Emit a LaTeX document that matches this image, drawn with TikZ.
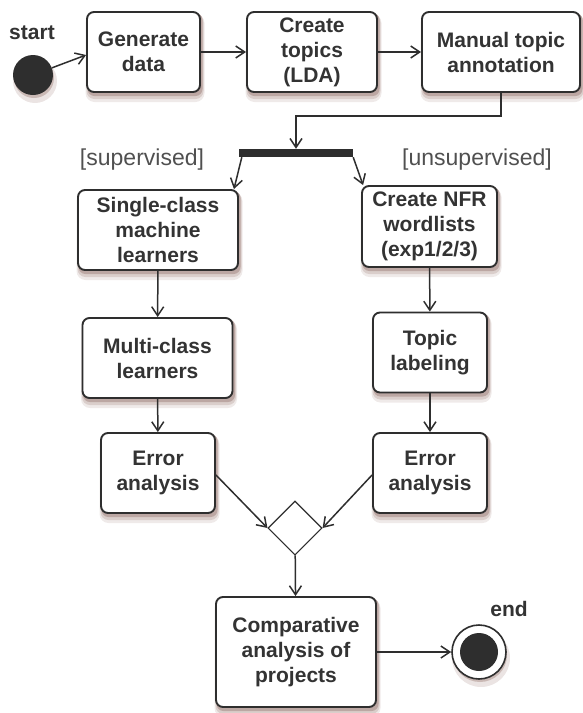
\documentclass[tikz,border=0pt]{standalone}
\usepackage{fontspec}
\setmainfont{Liberation Sans}
\usetikzlibrary{arrows.meta,shapes.geometric}
\definecolor{dkgray}{HTML}{2E2E2E}
\definecolor{txgray}{HTML}{333333}
\definecolor{lbgray}{HTML}{505050}
\definecolor{shbrown}{HTML}{7A4F47}

\tikzset{
  actbox/.style={draw=dkgray,fill=white,line width=1.9pt,rounded corners=7pt,
    align=center,text=txgray,font=\bfseries\fontsize{21}{25}\selectfont,
    minimum width=114,minimum height=80,inner sep=0pt},
  flow/.style={dkgray,line width=1.5pt,-{Straight Barb[length=9pt,width=12pt]}},
  guard/.style={text=lbgray,font=\fontsize{23}{25}\selectfont},
  tag/.style={text=txgray,font=\bfseries\fontsize{21}{25}\selectfont}
}

\begin{document}
\begin{tikzpicture}[x=1pt,y=-1pt]
  \useasboundingbox (0,0) rectangle (582,713);

  % --- initial and final states ---
  \foreach \cx/\cy/\rad in {33/75/20,479/652/27} {
    \fill[shbrown!15] ({\cx+2},{\cy+6}) circle ({\rad+2});
    \fill[shbrown!40] ({\cx+1},{\cy+3}) circle (\rad);
  }
  \node[circle,fill=dkgray,minimum size=40,inner sep=0] (start) at (33,75) {};
  \node[tag] (startlbl) at (32,33) {start};
  \node[circle,draw=dkgray,line width=1.6pt,fill=white,minimum size=54,inner sep=0,
        path picture={\fill[dkgray] (path picture bounding box.center) circle (19);}]
        (endpt) at (479,652) {};
  \node[tag] (endlbl) at (509,609) {end};

  % --- activity boxes (shadow first, then box) ---
  \foreach \nm/\cx/\cy/\bw/\bh/\txt in {
      gen/143.5/52/113/80/{Generate\\data},
      lda/312/52/130/80/{Create\\topics\\(LDA)},
      manual/501/52/158/80/{Manual topic\\annotation},
      single/158/230/160/80/{Single-class\\machine\\learners},
      multi/157.5/358/150/80/{Multi-class\\learners},
      errl/158/473/114/80/{Error\\analysis},
      nfr/429.5/226.5/135/81/{Create NFR\\wordlists\\(exp1/2/3)},
      topiclab/430/352.5/114/80/{Topic\\labeling},
      errr/430/473/114/80/{Error\\analysis},
      comp/296/652/160/110/{Comparative\\analysis of\\projects}} {
    \fill[shbrown!12,rounded corners=9pt]
      ({\cx-\bw/2-1.5},{\cy-\bh/2+2}) rectangle ({\cx+\bw/2+4.5},{\cy+\bh/2+10});
    \fill[shbrown!28,rounded corners=8pt]
      ({\cx-\bw/2-0.5},{\cy-\bh/2+2}) rectangle ({\cx+\bw/2+3.5},{\cy+\bh/2+7});
    \fill[shbrown!50,rounded corners=7pt]
      ({\cx-\bw/2+0.5},{\cy-\bh/2+1}) rectangle ({\cx+\bw/2+2.5},{\cy+\bh/2+4});
    \node[actbox,minimum width=\bw,minimum height=\bh] (\nm) at (\cx,\cy) {\txt};
  }

  % --- fork and merge ---
  \node[fill=dkgray,minimum width=114,minimum height=8,inner sep=0] (fork) at (296,153) {};
  \node[guard] (sup) at (142,160) {[supervised]};
  \node[guard] (unsup) at (477,160) {[unsupervised]};
  \node[diamond,draw=dkgray,line width=1.1pt,fill=white,minimum width=54,minimum height=54,
        inner sep=0] (merge) at (295,528) {};

  % --- transitions ---
  \draw[flow] (start) -- ([yshift=-3pt]gen.west);
  \draw[flow] (gen) -- (lda);
  \draw[flow] (lda) -- (manual);
  \draw[flow] (manual.south) -- ++(0,23) -| (fork.north);
  \draw[flow] ([xshift=3pt]fork.south west) -- ([xshift=-5pt]single.north east);
  \draw[flow] (fork.south east) -- ([xshift=2pt]nfr.north west);
  \draw[flow] (single) -- (multi);
  \draw[flow] (multi) -- (errl);
  \draw[flow] (nfr) -- (topiclab);
  \draw[flow] (topiclab) -- (errr);
  \draw[flow] ([yshift=-2pt]errl.east) -- (merge.west);
  \draw[flow] ([yshift=-2pt]errr.west) -- (merge.east);
  \draw[flow] (merge) -- (comp);
  \draw[flow] (comp) -- (endpt);

\end{tikzpicture}
\end{document}
